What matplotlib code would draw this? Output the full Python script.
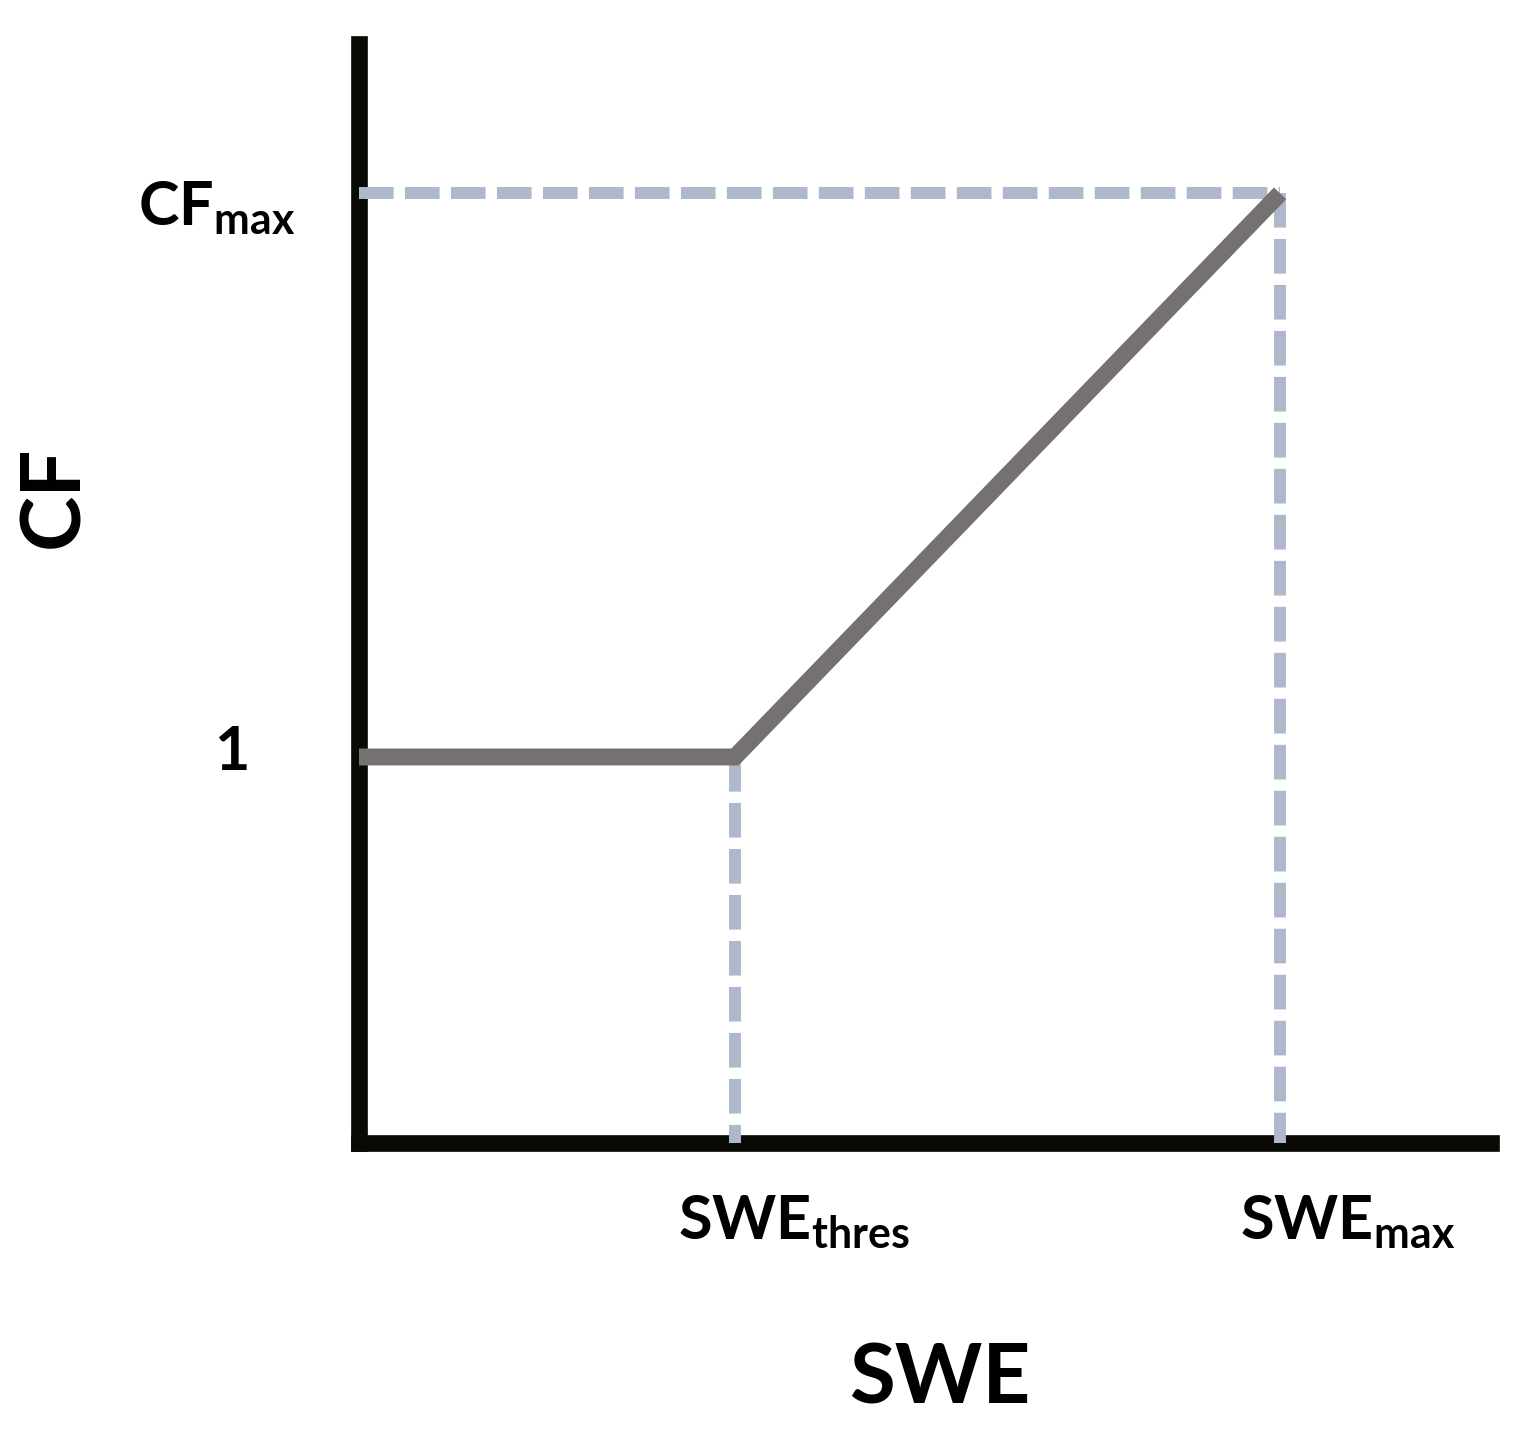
import matplotlib
matplotlib.use("Agg")
import matplotlib.pyplot as plt

plt.rcParams['font.family'] = ['Lato', 'DejaVu Sans']
plt.rcParams['font.weight'] = 'bold'
plt.rcParams['mathtext.fontset'] = 'custom'
plt.rcParams['mathtext.rm'] = 'Lato:bold'
plt.rcParams['mathtext.it'] = 'Lato:bold'
plt.rcParams['mathtext.bf'] = 'Lato:bold'

# Data (conceptual units)
swe_thres = 1.0
swe_max = 2.45
cf_one = 1.0
cf_max = 2.46
swe_points = [0.0, swe_thres, swe_max]
cf_points = [cf_one, cf_one, cf_max]
x_limit = 3.011
y_limit = 2.847

line_color = '#767171'
dash_color = '#adb9ca'
axis_color = '#0a0a05'

fig = plt.figure(figsize=(15.28, 14.34), dpi=100)
ax = fig.add_axes([359/1528, (1434-1143)/1434, (1491-359)/1528, (1143-44)/1434])
ax.set_xlim(0, x_limit)
ax.set_ylim(0, y_limit)

for s in ['top', 'right']:
    ax.spines[s].set_visible(False)
for s in ['left', 'bottom']:
    ax.spines[s].set_linewidth(12)
    ax.spines[s].set_color(axis_color)
    ax.spines[s].set_capstyle('projecting')
ax.set_xticks([])
ax.set_yticks([])

dash_kw = dict(color=dash_color, lw=8.6, dashes=(2.9, 0.95), clip_on=False,
               zorder=4, solid_capstyle='butt', dash_capstyle='butt')
ax.plot([0, swe_max], [cf_max, cf_max], **dash_kw)
ax.plot([swe_max, swe_max], [cf_max, 0], **dash_kw)
ax.plot([swe_thres, swe_thres], [cf_one, 0], **dash_kw)

ax.plot(swe_points, cf_points, color=line_color, lw=12.2, solid_capstyle='butt',
        solid_joinstyle='miter', clip_on=False, zorder=5)

tick_fs = 44
ax.annotate(r'$\mathrm{CF}_{\mathrm{max}}$', xy=(0, cf_max), xycoords=('axes fraction', 'data'),
            xytext=(-64, -15), textcoords='offset pixels', ha='right', va='center',
            fontsize=tick_fs)
ax.annotate('1', xy=(0, cf_one), xycoords=('axes fraction', 'data'),
            xytext=(-127, 5), textcoords='offset pixels', ha='center', va='center',
            fontsize=tick_fs, fontweight='bold')
ax.annotate(r'$\mathrm{SWE}_{\mathrm{thres}}$', xy=(swe_thres, 0), xycoords=('data', 'axes fraction'),
            xytext=(-57, -79), textcoords='offset pixels', ha='left', va='center',
            fontsize=tick_fs)
ax.annotate(r'$\mathrm{SWE}_{\mathrm{max}}$', xy=(swe_max, 0), xycoords=('data', 'axes fraction'),
            xytext=(-40, -79), textcoords='offset pixels', ha='left', va='center',
            fontsize=tick_fs)

fig.text(940/1528, 1 - 1380/1434, 'SWE', ha='center', va='center', fontsize=60, fontweight='bold')
fig.text(55/1528, 1 - 497/1434, 'CF', ha='center', va='center', rotation=90,
         fontsize=60, fontweight='bold')

fig.savefig('out.png', dpi=100, facecolor='white')
